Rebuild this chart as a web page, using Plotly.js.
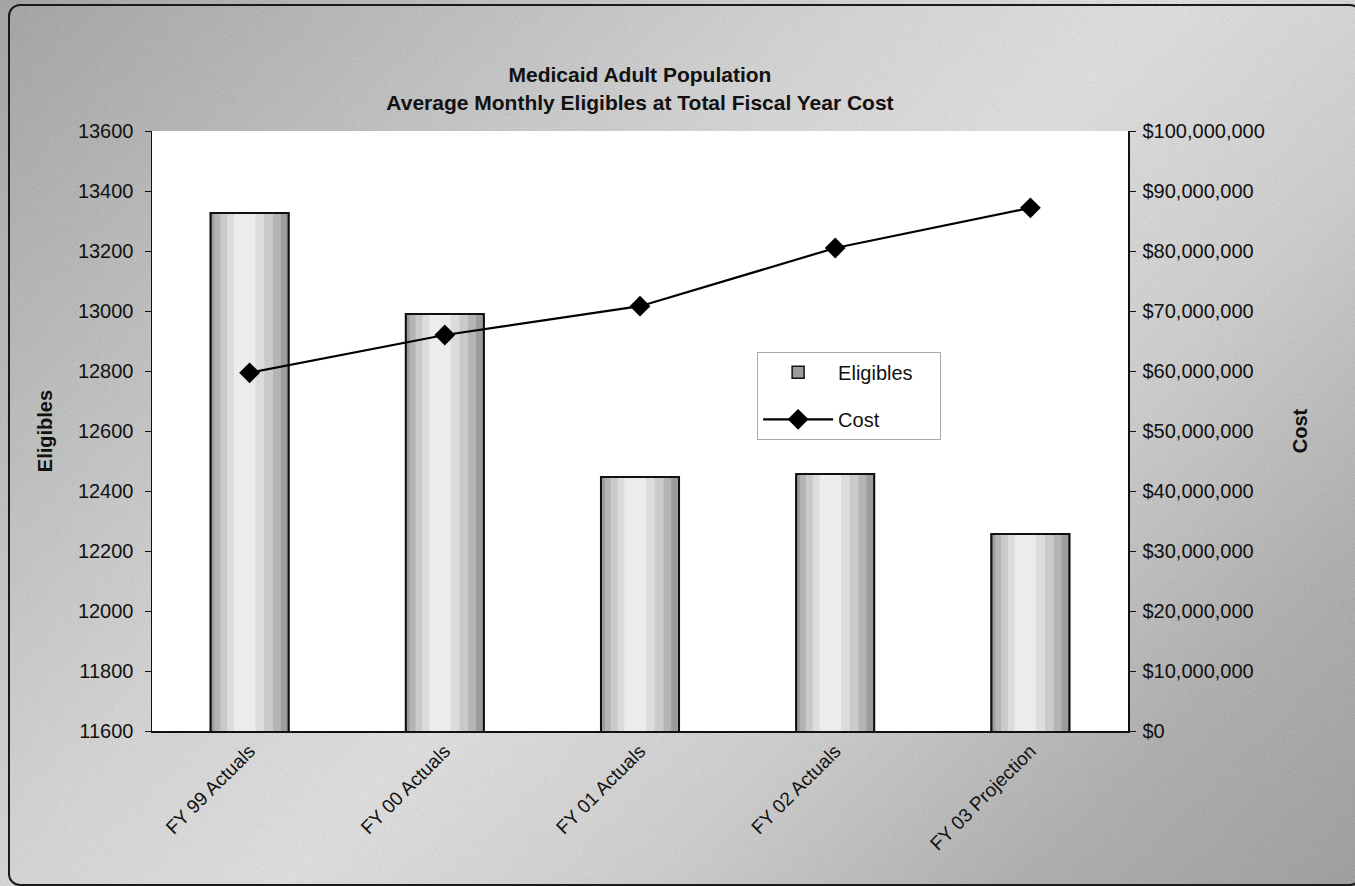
<!DOCTYPE html>
<html>
<head>
<meta charset="utf-8">
<script src="https://cdn.plot.ly/plotly-3.0.1.min.js"></script>
<style>
  html, body { margin: 0; padding: 0; width: 1355px; height: 886px; overflow: hidden; }
  body {
    background:
      linear-gradient(135deg, #9f9f9f 0%, #b9b9b9 18%, #d6d6d6 38%, #e2e2e2 52%, #cfcfcf 68%, #ababab 85%, #999999 100%);
  }
  #grain {
    position: absolute; left: 0; top: 0; width: 1355px; height: 886px;
    opacity: 0.35; pointer-events: none;
  }
  #frame {
    position: absolute; left: 8px; top: 4px; width: 1350px; height: 878px;
    border: 2px solid #1a1a1a; border-radius: 12px; pointer-events: none;
  }
  #chart { position: absolute; left: 0; top: 0; width: 1355px; height: 886px; }
</style>
</head>
<body>
<svg id="grain" xmlns="http://www.w3.org/2000/svg">
  <filter id="n"><feTurbulence type="fractalNoise" baseFrequency="0.9" numOctaves="2" stitchTiles="stitch"/><feColorMatrix type="saturate" values="0"/></filter>
  <rect width="100%" height="100%" filter="url(#n)"/>
</svg>
<div id="chart"></div>
<div id="frame"></div>
<script>
// Fiscal years shown on the category axis
const years = ['FY 99 Actuals', 'FY 00 Actuals', 'FY 01 Actuals', 'FY 02 Actuals', 'FY 03 Projection'];
// Average monthly eligibles (left axis)
const eligibles = [13327, 12990, 12447, 12457, 12257];
// Total fiscal year cost in dollars (right axis)
const cost = [59700000, 66000000, 70800000, 80500000, 87200000];

const barWidth = 0.4;
// Shaded bar body: a darker shell with lighter inner bands for a cylinder-like look
const shades = [
  { w: barWidth, c: '#9c9c9c', off: 0 },
  { w: 0.34, c: '#b4b4b4', off: -0.01 },
  { w: 0.27, c: '#cacaca', off: -0.015 },
  { w: 0.19, c: '#dcdcdc', off: -0.02 },
  { w: 0.11, c: '#ececec', off: -0.025 }
];

const traces = [];
shades.forEach((s, i) => {
  traces.push({
    type: 'bar', x: years, y: eligibles,
    width: years.map(() => s.w),
    offset: years.map(() => -s.w / 2 + s.off),
    marker: { color: s.c, line: { width: i === 0 ? 1.5 : 0, color: '#111' } },
    name: 'Eligibles&nbsp;&nbsp;&nbsp;&nbsp;', legendgroup: 'g1',
    showlegend: i === 0, hoverinfo: i === 0 ? 'x+y' : 'skip'
  });
});
// Crisp outline drawn over the shading
traces.push({
  type: 'bar', x: years, y: eligibles,
  width: years.map(() => barWidth),
  marker: { color: 'rgba(0,0,0,0)', line: { width: 2, color: '#111' } },
  showlegend: false, hoverinfo: 'skip'
});
traces.push({
  type: 'scatter', mode: 'lines+markers', x: years, y: cost, yaxis: 'y2',
  name: 'Cost', legendgroup: 'g2',
  line: { color: '#000', width: 2.2 },
  marker: { symbol: 'diamond', size: 16, color: '#000' }
});

const FAMILY = 'Arial, "Liberation Sans", sans-serif';
const baseFont = { family: FAMILY, size: 19, color: '#111' };
const tickFont = { family: FAMILY, size: 20, color: '#111' };

const layout = {
  width: 1355, height: 886,
  margin: { l: 152, r: 227, t: 131, b: 155 },
  paper_bgcolor: 'rgba(0,0,0,0)',
  plot_bgcolor: '#ffffff',
  barmode: 'overlay',
  font: baseFont,
  title: {
    text: '<b>Medicaid Adult Population<br>Average Monthly Eligibles at Total Fiscal Year Cost</b>',
    x: 0.4723, xanchor: 'center', y: 0.907, yanchor: 'middle',
    font: { family: FAMILY, size: 21, color: '#111' }
  },
  xaxis: {
    type: 'category', tickangle: -45, showline: true, linecolor: '#111', linewidth: 1.5,
    ticks: '', tickfont: baseFont, showgrid: false, zeroline: false
  },
  yaxis: {
    range: [11600, 13600], dtick: 200, tick0: 11600, tickformat: 'd',
    showline: true, linecolor: '#111', linewidth: 1.5,
    ticks: 'outside', ticklen: 6, tickcolor: '#111', showgrid: false, zeroline: false,
    ticklabelstandoff: 7,
    tickfont: tickFont,
    title: { text: '<b>Eligibles</b>', standoff: 20, font: { family: FAMILY, size: 20, color: '#111' } }
  },
  yaxis2: {
    overlaying: 'y', side: 'right', range: [0, 100000000], dtick: 10000000,
    tickprefix: '$', tickformat: ',d',
    showline: true, linecolor: '#111', linewidth: 1.5,
    ticks: 'outside', ticklen: 6, tickcolor: '#111', showgrid: false, zeroline: false,
    ticklabelstandoff: 3,
    tickfont: tickFont,
    title: { text: '<b>Cost</b>', standoff: 29, font: { family: FAMILY, size: 20, color: '#111' } }
  },
  legend: {
    x: 0.62, y: 0.632, xanchor: 'left', yanchor: 'top',
    bgcolor: '#ffffff', bordercolor: '#aaaaaa', borderwidth: 1,
    font: { family: FAMILY, size: 20, color: '#111' },
    traceorder: 'grouped', tracegroupgap: 18, itemwidth: 70
  },
  showlegend: true
};

Plotly.newPlot('chart', traces, layout, { displayModeBar: false, staticPlot: true });
</script>
</body>
</html>
